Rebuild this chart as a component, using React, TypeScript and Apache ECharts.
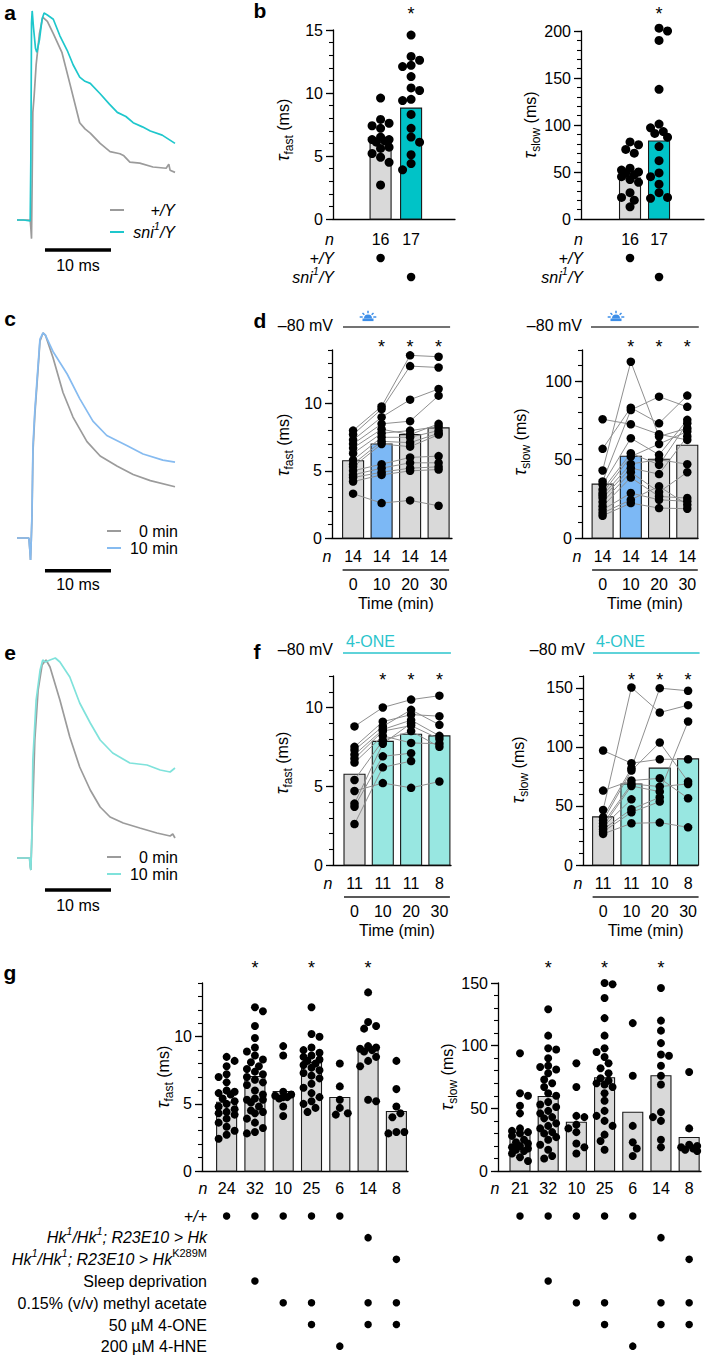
import React, { useEffect, useRef } from "react";
import * as echarts from "echarts";

const FONT = '"Liberation Sans", Arial, Helvetica, sans-serif';

/* ---------------- traces: [time (ms), normalised amplitude] ---------------- */
const TRACE_A_WT = [[0,0],[1,0],[2,0],[2.1,-0.04],[2.2,-0.09],[2.3,0.2],[2.4,0.52],[2.6,0.6],[2.9,0.75],[3.4,0.9],[3.9,0.98],[4.6,0.96],[5.5,0.9],[6.8,0.81],[8.0,0.66],[9.5,0.47],[10.3,0.44],[11.1,0.42],[12.6,0.37],[14.1,0.33],[15.6,0.32],[16.2,0.31],[17.1,0.28],[18.6,0.275],[20.6,0.256],[22.6,0.25],[23.0,0.27],[23.2,0.24],[23.94,0.23]];
const TRACE_A_SNI = [[0,0],[1,0],[2,-0.005],[2.1,0.3],[2.2,0.95],[2.3,1.01],[2.5,0.93],[2.8,0.83],[3.0,0.81],[3.4,0.87],[3.8,0.97],[4.1,1.0],[4.6,0.99],[5.5,0.97],[6.5,0.89],[7.6,0.82],[8.5,0.75],[9.5,0.69],[10.3,0.67],[11.1,0.66],[12.6,0.61],[14.0,0.56],[15.2,0.52],[16.5,0.5],[17.6,0.47],[19.0,0.45],[20.2,0.43],[22.0,0.41],[23.94,0.37]];
const TRACE_C_0 = [[0,0],[1,0],[1.8,0],[1.95,-0.06],[2.05,-0.107],[2.15,-0.02],[2.27,0.1],[2.42,0.42],[2.7,0.6],[3.03,0.75],[3.48,0.96],[3.94,1.0],[4.3,0.99],[5.45,0.88],[6.97,0.71],[8.48,0.59],[10.6,0.47],[12.6,0.4],[15.2,0.35],[17.6,0.31],[20.2,0.28],[23.94,0.25]];
const TRACE_C_10 = [[0,0],[1,0],[1.8,0],[1.95,-0.06],[2.05,-0.107],[2.15,-0.02],[2.27,0.12],[2.42,0.45],[2.7,0.62],[3.03,0.77],[3.48,0.97],[3.94,1.0],[4.3,0.99],[5.45,0.91],[7.6,0.8],[9.5,0.68],[11.5,0.57],[13.6,0.5],[16.7,0.45],[19.1,0.41],[22.1,0.38],[23.94,0.37]];
const TRACE_E_0 = [[0,0],[1,0],[1.9,0],[2.0,-0.04],[2.1,-0.06],[2.25,0.1],[2.7,0.59],[3.2,0.84],[3.8,0.965],[4.4,0.99],[5.0,0.955],[6.5,0.79],[8.0,0.605],[9.5,0.455],[11.1,0.34],[12.6,0.255],[14.1,0.205],[16.1,0.175],[18.6,0.15],[21.2,0.125],[23.2,0.11],[23.6,0.12],[23.94,0.1]];
const TRACE_E_10 = [[0,0],[1,0],[1.9,0],[2.0,-0.04],[2.1,-0.06],[2.25,0.12],[2.4,0.49],[2.9,0.79],[3.5,0.94],[3.9,0.99],[4.3,0.98],[5.0,0.99],[5.8,1.0],[6.5,0.98],[7.6,0.925],[8.0,0.905],[9.5,0.775],[11.1,0.675],[12.6,0.59],[14.5,0.525],[17.1,0.475],[19.7,0.465],[21.7,0.44],[23.2,0.43],[23.94,0.45]];
const SCALE_BAR_MS = [4.24, 14.24];
const SCALE_LABEL = "10 ms";
const LEGEND_A = ["{i|+/Y}", "{i|sni}{si|1}{i|/Y}"];
const LEGEND_CE = ["0 min", "10 min"];

/* ---------------- panel b ---------------- */
const B_ROW_LABELS = ["{i|+/Y}", "{i|sni}{si|1}{i|/Y}"];
const B_TABLE = [[0], [1]];
const B_N = ["16", "17"];
const B_STARS = [1];
const B_FAST_BARS = [6.1, 8.8];
const B_FAST_WT = [9.6, 7.9, 7.6, 7.4, 7.2, 6.5, 6.3, 6.3, 6.2, 6.1, 5.7, 5.6, 5.2, 4.9, 4.5, 2.7];
const B_FAST_SNI = [14.6, 12.9, 12.6, 12.2, 12.1, 11.3, 10.4, 10.2, 9.5, 9.4, 8.3, 7.2, 6.5, 6.1, 5.1, 4.4, 3.9];
const B_SLOW_BARS = [43.6, 83];
const B_SLOW_WT = [82, 79, 74, 70, 54, 52, 50, 49, 47, 45, 42, 39, 28, 23, 20, 13];
const B_SLOW_SNI = [203, 200, 190, 138, 101, 97, 93, 91, 87, 77, 62, 49, 45, 37, 28, 23, 22];

/* ---------------- panels d and f (paired, per cell: 0,10,20,30 min) ---------------- */
const TIME_LABELS = ["0", "10", "20", "30"];
const TIME_TITLE = "Time (min)";
const PAIRED_STARS = [1, 2, 3];
const D_N = ["14", "14", "14", "14"];
const D_FAST_BARS = [5.75, 7.0, 7.7, 8.2];
const D_FAST_CELLS = [
  [8.0, 9.8, 13.6, 13.5], [7.7, 9.6, 12.8, 12.7], [7.3, 9.0, 10.3, 11.1], [7.0, 8.5, 8.7, 10.6],
  [6.7, 8.1, 7.7, 8.5], [6.3, 7.8, 8.0, 8.3], [5.8, 7.5, 7.5, 8.0], [5.5, 7.2, 7.1, 7.8],
  [5.3, 7.0, 6.8, 7.7], [5.0, 5.5, 6.0, 6.1], [4.7, 5.2, 5.6, 5.6], [4.5, 4.9, 5.2, 5.3],
  [4.2, 4.7, 5.0, 5.1], [3.3, 2.6, 2.8, 2.4],
];
const D_SLOW_BARS = [34.4, 52.2, 50.3, 59.2];
const D_SLOW_CELLS = [
  [75.8, 72.6, 66.2, 62.6], [56.9, 83.2, 73.2, 90.9], [43.1, 112.5, 64.8, 70.1], [36.1, 81.7, 90.2, 83.7],
  [34.0, 63.7, 53.1, 75.4], [30.8, 54.1, 46.7, 73.2], [28.7, 52.0, 60.0, 68.0], [27.2, 47.3, 50.0, 47.1],
  [25.5, 44.6, 40.8, 64.8], [22.9, 42.0, 29.3, 42.0], [20.2, 38.6, 26.5, 25.5], [18.0, 28.7, 24.4, 23.4],
  [15.9, 24.4, 33.0, 21.2], [14.2, 22.3, 19.1, 18.7],
];
const F_FAST_N = ["11", "11", "11", "8"];
const F_FAST_BARS = [5.76, 7.85, 8.3, 8.2];
const F_FAST_CELLS = [
  [8.8, 10.0, 10.5, 10.75], [7.5, 9.1, 9.55, 9.45], [7.3, 8.8, 9.85, 8.9], [7.0, 8.6, 9.2, 8.2],
  [6.75, 8.5, 8.85, 8.0], [6.5, 8.2, 7.75, 7.7], [5.4, 7.9, 8.5, 7.5], [4.7, 5.2, 4.9, 5.3],
  [3.9, 7.7, 9.0, null], [3.7, 6.9, 7.1, null], [2.6, 6.2, 6.6, null],
];
const F_SLOW_N = ["11", "11", "10", "8"];
const F_SLOW_BARS = [40.7, 68.6, 82, 89.8];
const F_SLOW_CELLS = [
  [96.9, 86.2, 89.5, 89.5], [63.0, 71.5, 73.4, 56.5], [46.6, 150.3, 129.1, 135.3], [40.4, 81.9, 149.7, 147.5],
  [37.6, 79.9, 103.7, 70.6], [35.3, 68.6, 66.4, 68.6], [33.0, 66.9, 62.1, 121.5], [26.3, 35.3, 35.9, 31.9],
  [30.2, 47.2, 57.3, null], [28.2, 44.6, 53.7, null], [32.5, 55.6, null, null],
];

/* ---------------- panel g ---------------- */
const G_FAST_N = ["24", "32", "10", "25", "6", "14", "8"];
const G_SLOW_N = ["21", "32", "10", "25", "6", "14", "8"];
const G_STARS = [1, 3, 5];
const G_FAST_BARS = [5.12, 7.04, 5.92, 8.08, 5.47, 8.98, 4.43];
const G_FAST_GROUPS = [
  [8.5, 8.2, 7.8, 7.2, 7.0, 6.6, 6.0, 5.9, 5.8, 5.7, 5.4, 5.2, 5.0, 4.8, 4.6, 4.4, 4.3, 4.2, 3.9, 3.6, 3.3, 3.0, 2.7, 2.4],
  [12.2, 11.9, 10.8, 9.9, 9.2, 8.9, 8.6, 8.3, 8.1, 7.8, 7.6, 7.4, 7.2, 7.0, 6.8, 6.6, 6.4, 6.0, 5.7, 5.4, 5.3, 5.3, 5.1, 4.8, 4.5, 4.4, 4.3, 3.9, 3.6, 3.2, 2.9, 2.8],
  [9.3, 8.6, 5.9, 5.7, 5.6, 5.5, 5.5, 5.4, 4.8, 4.1],
  [12.2, 10.2, 10.0, 9.2, 9.0, 8.8, 8.6, 8.5, 8.3, 8.2, 8.0, 7.9, 7.7, 7.5, 7.3, 7.1, 6.9, 6.5, 6.2, 5.8, 5.5, 5.2, 5.0, 4.7, 4.4],
  [8.0, 6.3, 5.3, 4.7, 4.3, 4.2],
  [13.3, 11.1, 10.8, 10.6, 9.3, 9.2, 9.1, 9.0, 8.9, 8.5, 8.2, 7.8, 5.3, 5.2],
  [8.2, 6.1, 4.8, 4.3, 4.0, 2.9, 2.9, 2.8],
];
const G_SLOW_BARS = [30.9, 59.5, 38.9, 74.4, 46.9, 76, 26.7];
const G_SLOW_GROUPS = [
  [94, 62, 60, 52, 46, 34, 32, 31, 30, 28, 25, 23, 22, 20, 19, 18, 17, 16, 14, 11, 8],
  [129, 108, 98, 97, 90, 84, 83, 81, 78, 73, 70, 67, 62, 60, 55, 53, 51, 48, 46, 43, 42, 38, 36, 34, 31, 30, 27, 25, 21, 17, 12, 10],
  [86, 67, 44, 43, 37, 34, 31, 22, 19, 14],
  [150, 149, 138, 122, 108, 98, 95, 91, 86, 82, 78, 74, 72, 70, 69, 67, 62, 56, 48, 44, 40, 36, 29, 24, 17],
  [118, 76, 36, 23, 18, 12],
  [146, 120, 112, 102, 93, 92, 84, 76, 69, 47, 43, 40, 25, 19],
  [79, 34, 21, 20, 19, 18, 17, 16],
];
const G_ROW_LABELS = [
  "{i|+/+}",
  "{i|Hk}{si|1}{i|/Hk}{si|1}{i|; R23E10 > Hk}",
  "{i|Hk}{si|1}{i|/Hk}{si|1}{i|; R23E10 > Hk}{s|K289M}",
  "{r|Sleep deprivation}",
  "{r|0.15% (v/v) methyl acetate}",
  "{r|50 \u00b5M 4-ONE}",
  "{r|200 \u00b5M 4-HNE}",
];
const G_TABLE = [[0, 1, 2, 3, 4], [5], [6], [1], [2, 3, 5, 6], [3, 5, 6], [4]];

const HOLD_LABEL = "\u201380 mV";
const DRUG_LABEL = "4-ONE";
const Y_FAST = "{t|\u03c4}{s|fast}{n| (ms)}";
const Y_SLOW = "{t|\u03c4}{s|slow}{n| (ms)}";

/* ---------------- colours ---------------- */
const C_GRAY_BAR = "#d9d9d9";
const C_CYAN = "#00c3c7";
const C_BLUE_BAR = "#7cb8f5";
const C_F_BAR = "#98e7e1";
const C_TR_GRAY = "#9b9b9b";
const C_TR_CYAN = "#1ec7cc";
const C_TR_BLUE = "#86bbf0";
const C_TR_LCYAN = "#7fe2db";
const C_ICON = "#3d8ee8";
const C_DRUG = "#2ac4cc";

/* ---------------- layout ---------------- */
const P_BF = { left: 333, top: 30, width: 122, height: 189, yMax: 15, major: 5, minor: 1, xMin: -1.56, xMax: 2.44, bw: 21 };
const P_BS = { left: 581, top: 31, width: 123, height: 188, yMax: 200, major: 50, minor: 10, xMin: -1.69, xMax: 2.55, bw: 21 };
const P_DF = { left: 332, top: 350, width: 120, height: 188, yMax: 14, major: 5, minor: 1, xMin: -0.74, xMax: 3.47, bw: 21 };
const P_DS = { left: 582, top: 350, width: 116, height: 188, yMax: 120, major: 50, minor: 10, xMin: -0.73, xMax: 3.38, bw: 21 };
const P_FF = { left: 333, top: 676, width: 118, height: 189, yMax: 12, major: 5, minor: 1, xMin: -0.76, xMax: 3.41, bw: 21 };
const P_FS = { left: 583, top: 676, width: 115, height: 189, yMax: 160, major: 50, minor: 10, xMin: -0.71, xMax: 3.35, bw: 21 };
const P_GF = { left: 202, top: 983, width: 206, height: 188, yMax: 14, major: 5, minor: 1, xMin: -0.87, xMax: 6.41, bw: 20 };
const P_GS = { left: 498, top: 983, width: 203, height: 188, yMax: 150, major: 50, minor: 10, xMin: -0.78, xMax: 6.42, bw: 20 };

function colX(p: any, i: number) {
  return p.left + ((i - p.xMin) / (p.xMax - p.xMin)) * p.width;
}

function richStyles(fs: number) {
  return {
    r: { fontSize: fs, fontFamily: FONT, lineHeight: 24, verticalAlign: "middle", fill: "#000" },
    i: { fontSize: fs, fontFamily: FONT, fontStyle: "italic", lineHeight: 24, verticalAlign: "middle", fill: "#000" },
    si: { fontSize: Math.round(fs * 0.68), fontFamily: FONT, fontStyle: "italic", lineHeight: 13, verticalAlign: "top", fill: "#000" },
    s: { fontSize: Math.round(fs * 0.68), fontFamily: FONT, lineHeight: 13, verticalAlign: "top", fill: "#000" },
    t: { fontSize: 18, fontFamily: FONT, fontStyle: "italic", lineHeight: 24, verticalAlign: "middle", fill: "#000" },
    n: { fontSize: fs, fontFamily: FONT, lineHeight: 24, verticalAlign: "middle", fill: "#000" },
  };
}
const RICH16 = richStyles(16);
const RICH_ROWS = richStyles(16);
const RICH_AXIS = {
  t: { fontSize: 18, fontFamily: FONT, fontStyle: "italic", lineHeight: 24, verticalAlign: "middle", fill: "#000" },
  s: { fontSize: 12, fontFamily: FONT, lineHeight: 12, verticalAlign: "bottom", fill: "#000" },
  n: { fontSize: 16, fontFamily: FONT, lineHeight: 24, verticalAlign: "middle", fill: "#000" },
};

function T(x: number, y: number, text: string, o: any = {}) {
  return {
    type: "text",
    x,
    y,
    silent: true,
    rotation: o.rot || 0,
    z: 10,
    style: {
      text,
      fill: o.fill || "#000",
      fontSize: o.fs || 16,
      fontFamily: FONT,
      fontStyle: o.italic ? "italic" : "normal",
      fontWeight: o.bold ? "bold" : "normal",
      align: o.align || "center",
      verticalAlign: "middle",
      rich: o.rich,
    },
  };
}
function L(x1: number, y1: number, x2: number, y2: number, stroke: string, w: number) {
  return { type: "line", silent: true, z: 10, shape: { x1, y1, x2, y2 }, style: { stroke, lineWidth: w } };
}
function lamp(cx: number, cy: number) {
  const rays = [-90, -45, -135].map((a) => {
    const r = (a * Math.PI) / 180;
    return { type: "line", shape: { x1: Math.cos(r) * 5.2, y1: Math.sin(r) * 5.2, x2: Math.cos(r) * 7.8, y2: Math.sin(r) * 7.8 }, style: { stroke: C_ICON, lineWidth: 1.5 } };
  });
  return {
    type: "group",
    x: cx,
    y: cy,
    silent: true,
    z: 10,
    children: [
      { type: "sector", shape: { cx: 0, cy: 0, r: 4, r0: 0, startAngle: Math.PI, endAngle: Math.PI * 2 }, style: { fill: C_ICON } },
      { type: "rect", shape: { x: -5.5, y: 0, width: 11, height: 2.6 }, style: { fill: C_ICON } },
      { type: "line", shape: { x1: 5.3, y1: -1.5, x2: 8.3, y2: -1.5 }, style: { stroke: C_ICON, lineWidth: 1.5 } },
      { type: "line", shape: { x1: -5.3, y1: -1.5, x2: -8.3, y2: -1.5 }, style: { stroke: C_ICON, lineWidth: 1.5 } },
      ...rays,
    ],
  };
}

function swarm(col: number, values: number[], p: any, D: number) {
  const ppu = p.height / p.yMax;
  const spx = p.width / (p.xMax - p.xMin);
  const step = D * 0.5;
  const maxOff = p.bw / 2 + 1;
  const idx = values.map((_, i) => i).sort((a, b) => values[b] - values[a]);
  const placed: number[][] = [];
  const out: number[][] = new Array(values.length);
  let sgn = 1;
  for (const i of idx) {
    const y = values[i] * ppu;
    const cands = [0];
    for (let k = 1; k * step <= maxOff; k++) cands.push(k * step * sgn, -k * step * sgn);
    let best = 0;
    let bestD = -1;
    for (const c of cands) {
      let m = Infinity;
      for (const q of placed) m = Math.min(m, Math.hypot(q[0] - c, q[1] - y));
      if (m >= D * 0.92) { best = c; bestD = m; break; }
      if (m > bestD) { bestD = m; best = c; }
    }
    if (best !== 0) sgn = -sgn;
    placed.push([best, y]);
    out[i] = [col + best / spx, values[i]];
  }
  return out;
}

function buildOption() {
  const grid: any[] = [];
  const xAxis: any[] = [];
  const yAxis: any[] = [];
  const series: any[] = [];
  const els: any[] = [];

  const addGrid = (l: number, t: number, w: number, h: number) => {
    grid.push({ left: l, top: t, width: w, height: h, containLabel: false });
    return grid.length - 1;
  };

  const barPanel = (p: any, bars: number[], colors: string[]) => {
    const gi = addGrid(p.left, p.top, p.width, p.height);
    const xi = xAxis.length;
    xAxis.push({
      gridIndex: gi, type: "value", min: p.xMin, max: p.xMax,
      axisLine: { show: true, onZero: false, lineStyle: { color: "#000", width: 1.3 } },
      axisTick: { show: false }, axisLabel: { show: false }, splitLine: { show: false },
    });
    const yi = yAxis.length;
    const majors: number[] = [];
    for (let v = 0; v <= p.yMax + 1e-9; v += p.major) majors.push(v);
    yAxis.push({
      gridIndex: gi, type: "value", position: "left", min: 0, max: p.yMax, interval: p.major,
      axisLine: { show: true, onZero: false, lineStyle: { color: "#000", width: 1.3 } },
      axisTick: { show: true, length: 7, lineStyle: { color: "#000", width: 1.3 }, customValues: majors },
      axisLabel: {
        show: true, customValues: majors, color: "#000", fontSize: 16, fontFamily: FONT, margin: 10,
        formatter: (v: number) => (majors.indexOf(v) >= 0 ? String(v) : ""),
      },
      splitLine: { show: false },
    });
    yAxis.push({
      gridIndex: gi, type: "value", position: "left", min: 0, max: p.yMax, interval: p.minor,
      axisLine: { show: false, onZero: false },
      axisTick: { show: true, length: 4, lineStyle: { color: "#000", width: 1.1 } },
      axisLabel: { show: false }, splitLine: { show: false },
    });
    series.push({
      type: "custom", xAxisIndex: xi, yAxisIndex: yi, silent: true, z: 1, clip: false,
      encode: { x: 0, y: 1 },
      data: bars.map((v, i) => [i, v, i]),
      renderItem: (_params: any, api: any) => {
        const x = api.value(0);
        const v = api.value(1);
        const ci = api.value(2);
        const p0 = api.coord([x, 0]);
        const p1 = api.coord([x, v]);
        return {
          type: "rect",
          shape: { x: p0[0] - p.bw / 2, y: p1[1], width: p.bw, height: p0[1] - p1[1] },
          style: { fill: colors[ci], stroke: "#1a1a1a", lineWidth: 1.1 },
        };
      },
    });
    return { xi, yi };
  };

  const dots = (ax: any, pts: number[][], size: number) => {
    series.push({
      type: "scatter", xAxisIndex: ax.xi, yAxisIndex: ax.yi, data: pts, symbolSize: size,
      itemStyle: { color: "#000", opacity: 1 }, z: 4, silent: true, clip: false,
    });
  };

  const paired = (ax: any, cells: (number | null)[][]) => {
    cells.forEach((s) => {
      const data = s.map((v, i) => (v == null ? null : [i, v])).filter((d) => d) as number[][];
      series.push({
        type: "line", xAxisIndex: ax.xi, yAxisIndex: ax.yi, data, symbol: "none", silent: true, clip: false,
        lineStyle: { color: "#8f8f8f", width: 1 }, z: 3,
      });
    });
    const pts: number[][] = [];
    cells.forEach((s) => s.forEach((v, i) => { if (v != null) pts.push([i, v]); }));
    dots(ax, pts, 8.5);
  };

  const table = (p: any, y0: number, rowH: number, rows: number[][], size: number) => {
    const gi = addGrid(p.left, y0 - rowH / 2, p.width, rowH * rows.length);
    const xi = xAxis.length;
    xAxis.push({ gridIndex: gi, type: "value", min: p.xMin, max: p.xMax, show: false });
    const yi = yAxis.length;
    yAxis.push({ gridIndex: gi, type: "value", min: -0.5, max: rows.length - 0.5, inverse: true, show: false });
    const pts: number[][] = [];
    rows.forEach((cols, r) => cols.forEach((c) => pts.push([c, r])));
    dots({ xi, yi }, pts, size);
  };

  const traces = (left: number, base: number, unit: number, list: any[], barV: number) => {
    const yMin = -0.2;
    const yMax = 1.05;
    const gi = addGrid(left, base - yMax * unit, 158, (yMax - yMin) * unit);
    const xi = xAxis.length;
    xAxis.push({ gridIndex: gi, type: "value", min: 0, max: 158 / 6.6, show: false });
    const yi = yAxis.length;
    yAxis.push({ gridIndex: gi, type: "value", min: yMin, max: yMax, show: false });
    list.forEach((tr) => {
      series.push({
        type: "line", xAxisIndex: xi, yAxisIndex: yi, data: tr.data, symbol: "none", silent: true, clip: false,
        lineStyle: { color: tr.color, width: 1.7 }, z: tr.z || 2,
      });
    });
    series.push({
      type: "line", xAxisIndex: xi, yAxisIndex: yi, data: SCALE_BAR_MS.map((t) => [t, barV]), symbol: "none",
      silent: true, clip: false, lineStyle: { color: "#000", width: 3.5, cap: "butt" }, z: 2,
    });
  };

  /* ---------- a ---------- */
  traces(17, 220, 207, [{ data: TRACE_A_WT, color: C_TR_GRAY }, { data: TRACE_A_SNI, color: C_TR_CYAN, z: 3 }], -0.145);
  els.push(T(10, 12, "a", { bold: true, fs: 21 }));
  els.push(L(110, 210, 124, 210, C_TR_GRAY, 2));
  els.push(L(110, 232, 124, 232, C_TR_CYAN, 2));
  els.push(T(175, 210, LEGEND_A[0], { align: "right", rich: RICH16 }));
  els.push(T(175, 232, LEGEND_A[1], { align: "right", rich: RICH16 }));
  els.push(T(78, 265, SCALE_LABEL));

  /* ---------- c ---------- */
  traces(17, 538, 205, [{ data: TRACE_C_0, color: C_TR_GRAY }, { data: TRACE_C_10, color: C_TR_BLUE, z: 3 }], -0.16);
  els.push(T(10, 318, "c", { bold: true, fs: 21 }));
  els.push(L(107, 531, 121, 531, C_TR_GRAY, 2));
  els.push(L(107, 548, 121, 548, C_TR_BLUE, 2));
  els.push(T(178, 531, LEGEND_CE[0], { align: "right" }));
  els.push(T(178, 548, LEGEND_CE[1], { align: "right" }));
  els.push(T(78, 584, SCALE_LABEL));

  /* ---------- e ---------- */
  traces(17, 858, 200, [{ data: TRACE_E_0, color: C_TR_GRAY }, { data: TRACE_E_10, color: C_TR_LCYAN, z: 3 }], -0.16);
  els.push(T(10, 652, "e", { bold: true, fs: 21 }));
  els.push(L(107, 857, 121, 857, C_TR_GRAY, 2));
  els.push(L(107, 874, 121, 874, C_TR_LCYAN, 2));
  els.push(T(178, 857, LEGEND_CE[0], { align: "right" }));
  els.push(T(178, 874, LEGEND_CE[1], { align: "right" }));
  els.push(T(78, 905, SCALE_LABEL));

  /* ---------- b ---------- */
  const bPanel = (p: any, bars: number[], wt: number[], sni: number[], ylab: string, labX: number, yl: number[]) => {
    const ax = barPanel(p, bars, [C_GRAY_BAR, C_CYAN]);
    dots(ax, [...swarm(0, wt, p, 8.5), ...swarm(1, sni, p, 8.5)], 9);
    table(p, 258, 19, B_TABLE, 8.5);
    B_STARS.forEach((c) => els.push(T(colX(p, c), 14, "*", { fs: 18 })));
    els.push(T(yl[0], yl[1], ylab, { rot: Math.PI / 2, rich: RICH_AXIS }));
    els.push(T(labX, 239, "{i|n}", { align: "right", rich: RICH16 }));
    B_N.forEach((s, i) => els.push(T(colX(p, i), 239, s)));
    B_ROW_LABELS.forEach((s, r) => els.push(T(labX, 258 + r * 19, s, { align: "right", rich: RICH16 })));
  };
  els.push(T(260, 10, "b", { bold: true, fs: 21 }));
  bPanel(P_BF, B_FAST_BARS, B_FAST_WT, B_FAST_SNI, Y_FAST, 334, [283, 130]);
  bPanel(P_BS, B_SLOW_BARS, B_SLOW_WT, B_SLOW_SNI, Y_SLOW, 583, [530, 125]);

  /* ---------- d / f ---------- */
  const pairedPanel = (p: any, bars: number[], colors: string[], cells: any[], nLab: string[], ylab: string, yl: number[], o: any) => {
    const ax = barPanel(p, bars, colors);
    paired(ax, cells);
    const x0 = colX(p, 0) - p.bw / 2;
    const x3 = colX(p, 3) + p.bw / 2;
    PAIRED_STARS.forEach((c) => els.push(T(colX(p, c), o.starY, "*", { fs: 18 })));
    els.push(T(yl[0], yl[1], ylab, { rot: Math.PI / 2, rich: RICH_AXIS }));
    els.push(T(o.nX, o.nY, "{i|n}", { align: "center", rich: RICH16 }));
    nLab.forEach((s, i) => els.push(T(colX(p, i), o.nY, s)));
    els.push(L(x0, o.nY + 14, x3, o.nY + 14, "#222", 1.3));
    TIME_LABELS.forEach((s, i) => els.push(T(colX(p, i), o.nY + 28, s)));
    els.push(T((x0 + x3) / 2, o.nY + 47, TIME_TITLE));
    els.push(T(o.holdX, o.holdY, HOLD_LABEL, { align: "right" }));
    els.push(L(o.lineX1, o.lineY, x3 + 1, o.lineY, o.lineColor, o.lineW));
    if (o.lamp) els.push(lamp(o.lineX1 + 25, o.lineY - 8.5));
    if (o.drug) els.push(T(o.lineX1 + 3, o.lineY - 12, DRUG_LABEL, { align: "left", fill: C_DRUG }));
  };
  els.push(T(260, 320, "d", { bold: true, fs: 21 }));
  pairedPanel(P_DF, D_FAST_BARS, [C_GRAY_BAR, C_BLUE_BAR, C_GRAY_BAR, C_GRAY_BAR], D_FAST_CELLS, D_N, Y_FAST, [283, 445],
    { starY: 347, nX: 327, nY: 556, holdX: 333, holdY: 325, lineX1: 343, lineY: 327, lineColor: "#444", lineW: 1.3, lamp: true });
  pairedPanel(P_DS, D_SLOW_BARS, [C_GRAY_BAR, C_BLUE_BAR, C_GRAY_BAR, C_GRAY_BAR], D_SLOW_CELLS, D_N, Y_SLOW, [520, 442],
    { starY: 347, nX: 577, nY: 556, holdX: 582, holdY: 325, lineX1: 591, lineY: 327, lineColor: "#444", lineW: 1.3, lamp: true });
  els.push(T(257, 651, "f", { bold: true, fs: 21 }));
  pairedPanel(P_FF, F_FAST_BARS, [C_GRAY_BAR, C_F_BAR, C_F_BAR, C_F_BAR], F_FAST_CELLS, F_FAST_N, Y_FAST, [282, 763],
    { starY: 680, nX: 328, nY: 883, holdX: 333, holdY: 649, lineX1: 343, lineY: 653, lineColor: C_DRUG, lineW: 1.5, drug: true });
  pairedPanel(P_FS, F_SLOW_BARS, [C_GRAY_BAR, C_F_BAR, C_F_BAR, C_F_BAR], F_SLOW_CELLS, F_SLOW_N, Y_SLOW, [518, 770],
    { starY: 680, nX: 578, nY: 883, holdX: 585, holdY: 649, lineX1: 593, lineY: 653, lineColor: C_DRUG, lineW: 1.5, drug: true });

  /* ---------- g ---------- */
  const gPanel = (p: any, bars: number[], groups: number[][], nLab: string[], ylab: string, yl: number[], nX: number) => {
    const ax = barPanel(p, bars, bars.map(() => C_GRAY_BAR));
    const pts: number[][] = [];
    groups.forEach((g, c) => pts.push(...swarm(c, g, p, 8)));
    dots(ax, pts, 8);
    table(p, 1216, 21.8, G_TABLE, 7.5);
    G_STARS.forEach((c) => els.push(T(colX(p, c), 968, "*", { fs: 18 })));
    els.push(T(yl[0], yl[1], ylab, { rot: Math.PI / 2, rich: RICH_AXIS }));
    els.push(T(nX, 1188, "{i|n}", { rich: RICH16 }));
    nLab.forEach((s, i) => els.push(T(colX(p, i), 1188, s)));
  };
  els.push(T(10, 972, "g", { bold: true, fs: 21 }));
  gPanel(P_GF, G_FAST_BARS, G_FAST_GROUPS, G_FAST_N, Y_FAST, [163, 1077], 203);
  gPanel(P_GS, G_SLOW_BARS, G_SLOW_GROUPS, G_SLOW_N, Y_SLOW, [447, 1077], 495);
  G_ROW_LABELS.forEach((s, r) => els.push(T(207, 1216 + r * 21.8, s, { align: "right", rich: RICH_ROWS })));

  return {
    animation: false,
    backgroundColor: "#fff",
    textStyle: { fontFamily: FONT },
    grid,
    xAxis,
    yAxis,
    series,
    graphic: { elements: els },
  };
}

export default function App() {
  const ref = useRef<HTMLDivElement>(null);
  useEffect(() => {
    if (!ref.current) return;
    const chart = echarts.init(ref.current, null, { renderer: "svg" });
    chart.setOption(buildOption() as any);
    return () => chart.dispose();
  }, []);
  return <div ref={ref} style={{ position: "absolute", left: 0, top: 0, width: 706, height: 1357, background: "#fff" }} />;
}
